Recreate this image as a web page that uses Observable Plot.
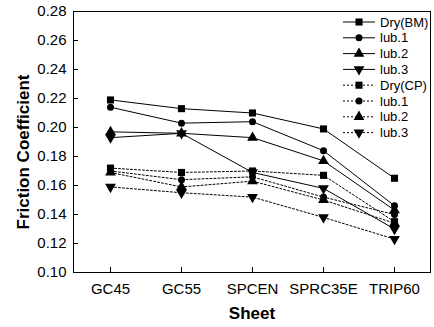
<!DOCTYPE html>
<html>
<head>
<meta charset="utf-8">
<script src="https://cdn.jsdelivr.net/npm/d3@7"></script>
<script src="https://cdn.jsdelivr.net/npm/@observablehq/plot@0.6"></script>
<style>
  html, body { margin: 0; padding: 0; background: white; }
</style>
</head>
<body>
<div id="chart"></div>
<script>
// ---- data ----
const categories = ["GC45", "GC55", "SPCEN", "SPRC35E", "TRIP60"];
const yTicks = [0.10, 0.12, 0.14, 0.16, 0.18, 0.20, 0.22, 0.24, 0.26, 0.28];
const seriesNames = ["Dry(BM)", "lub.1", "lub.2", "lub.3", "Dry(CP)", "lub.1", "lub.2", "lub.3"];

const dryBM  = [0.219, 0.213, 0.210, 0.199, 0.165];
const lub1BM = [0.214, 0.203, 0.204, 0.184, 0.146];
const lub2BM = [0.197, 0.196, 0.193, 0.177, 0.143];
const lub3BM = [0.193, 0.196, 0.169, 0.158, 0.130];
const dryCP  = [0.172, 0.169, 0.170, 0.167, 0.135];
const lub1CP = [0.170, 0.164, 0.166, 0.152, 0.140];
const lub2CP = [0.169, 0.159, 0.163, 0.150, 0.134];
const lub3CP = [0.159, 0.155, 0.152, 0.138, 0.123];

const seriesValues = [dryBM, lub1BM, lub2BM, lub3BM, dryCP, lub1CP, lub2CP, lub3CP];

// custom downward triangle
const sqrt3 = Math.sqrt(3);
const triangleDown = {
  draw(context, size) {
    const y = -Math.sqrt(size / (sqrt3 * 3));
    context.moveTo(0, -y * 2);
    context.lineTo(-sqrt3 * y, y);
    context.lineTo(sqrt3 * y, y);
    context.closePath();
  }
};
const symbolKinds = ["square", "circle", "triangle", "triangleDown"];
const symbolObj = {square: d3.symbolSquare, circle: d3.symbolCircle, triangle: d3.symbolTriangle, triangleDown: triangleDown};

const rows = [];
seriesValues.forEach((vals, s) => {
  vals.forEach((v, i) => {
    rows.push({cat: categories[i], value: v, series: s, group: s < 4 ? "BM" : "CP", kind: symbolKinds[s % 4]});
  });
});

const font = "'Liberation Sans', Arial, Helvetica, sans-serif";

const dotMarks = symbolKinds.map(k =>
  Plot.dot(rows.filter(d => d.kind === k), {
    x: "cat", y: "value", symbol: symbolObj[k], r: k === "circle" ? 3.5 : 4, fill: "black", stroke: "none"
  })
);

const chart = Plot.plot({
  width: 434,
  height: 327,
  marginLeft: 73,
  marginRight: 4,
  marginTop: 11,
  marginBottom: 55,
  style: {fontFamily: font, fontSize: "15px", color: "black", background: "white"},
  x: {type: "point", domain: categories, padding: 0.5, label: null},
  y: {domain: [0.10, 0.28], label: null},
  marks: [
    Plot.frame({stroke: "black", strokeWidth: 1}),
    Plot.axisY(yTicks, {tickSize: 0, tickPadding: 7, tickFormat: d => d.toFixed(2), label: null, fontSize: 15}),
    Plot.axisY(yTicks, {tickSize: 5, dx: 5, text: null, label: null}),
    Plot.axisX(categories, {tickSize: 0, tickPadding: 11, label: null, fontSize: 15}),
    Plot.axisX(categories, {tickSize: 5, dy: -5, text: null, label: null}),
    Plot.line(rows.filter(d => d.group === "BM"), {x: "cat", y: "value", z: "series", stroke: "black", strokeWidth: 1}),
    Plot.line(rows.filter(d => d.group === "CP"), {x: "cat", y: "value", z: "series", stroke: "black", strokeWidth: 1, strokeDasharray: "2,2"}),
    ...dotMarks,
    Plot.text(["Friction Coefficient"], {frameAnchor: "left", textAnchor: "middle", lineAnchor: "middle", dx: -50, dy: 10, rotate: -90, fontWeight: "bold", fontSize: 17, fill: "black"}),
    Plot.text(["Sheet"], {frameAnchor: "bottom", textAnchor: "middle", lineAnchor: "middle", dy: 41, fontWeight: "bold", fontSize: 17, fill: "black"})
  ]
});

document.getElementById("chart").appendChild(chart);

// legend inside plot, top-right
const svg = d3.select(chart);
const lg = svg.append("g").attr("font-family", font).attr("font-size", 13).attr("text-anchor", "start");
seriesNames.forEach((name, i) => {
  const y = 22 + i * 15.8;
  const g = lg.append("g").attr("transform", `translate(0,${y})`);
  g.append("line").attr("x1", 343).attr("x2", 375).attr("y1", 0).attr("y2", 0)
    .attr("stroke", "black").attr("stroke-width", 1)
    .attr("stroke-dasharray", i < 4 ? null : "2,2");
  const k = symbolKinds[i % 4];
  const size = k === "circle" ? Math.PI * 3.5 * 3.5 : Math.PI * 16;
  g.append("path").attr("transform", "translate(359,0)")
    .attr("d", d3.symbol(symbolObj[k], size)()).attr("fill", "black");
  g.append("text").attr("x", 380).attr("y", 0).attr("dy", "0.35em").attr("fill", "black")
    .attr("text-anchor", "start").text(name);
});
</script>
</body>
</html>
